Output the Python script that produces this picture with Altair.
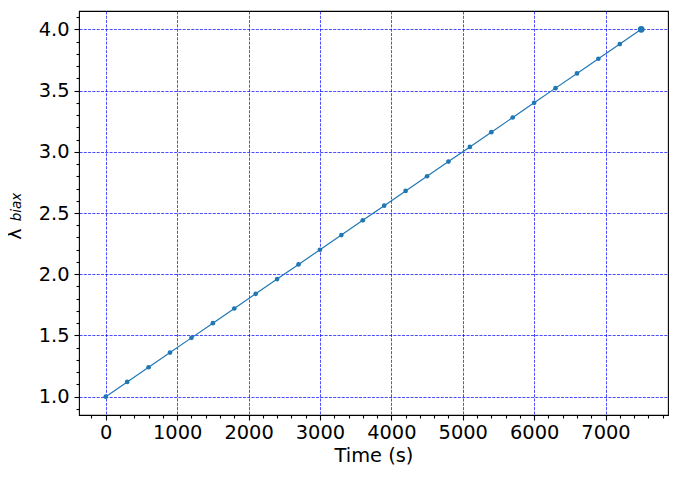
import altair as alt
import pandas as pd

time_s = [0, 300, 600, 900, 1200, 1500, 1800, 2100, 2400, 2700, 3000, 3300, 3600,
          3900, 4200, 4500, 4800, 5100, 5400, 5700, 6000, 6300, 6600, 6900, 7200, 7500]
lam = [1.00, 1.12, 1.24, 1.36, 1.48, 1.60, 1.72, 1.84, 1.96, 2.08, 2.20, 2.32, 2.44,
       2.56, 2.68, 2.80, 2.92, 3.04, 3.16, 3.28, 3.40, 3.52, 3.64, 3.76, 3.88, 4.00]

x_ticks = list(range(-200, 7801, 200))
y_ticks = [round(0.9 + 0.1 * i, 1) for i in range(33)]

df = pd.DataFrame({"t": time_s, "lam": lam})
df_last = df.tail(1)

FONT = "DejaVu Sans"
BLUE = "#1f77b4"

x_major = "datum.value % 1000 === 0"
y_major = "abs(datum.value * 2 - round(datum.value * 2)) < 1e-6"

xenc = alt.X("t:Q", scale=alt.Scale(domain=[-375, 7875], nice=False, zero=False),
             axis=alt.Axis(values=x_ticks, tickCount=200, title="Time (s)",
                           labelExpr=f"({x_major}) ? format(datum.value, 'd') : ''",
                           labelOverlap=False, labelFlush=False,
                           tickSize={"condition": {"test": x_major, "value": 5}, "value": 3},
                           gridOpacity={"condition": {"test": x_major, "value": 1}, "value": 0},
                           labelFontSize=19.4, titleFontSize=19.4,
                           labelPadding=3, titlePadding=5))
yenc = alt.Y("lam:Q", scale=alt.Scale(domain=[0.85, 4.15], nice=False, zero=False),
             axis=alt.Axis(values=y_ticks, tickCount=200, title=None,
                           labelExpr=f"({y_major}) ? format(datum.value, '.1f') : ''",
                           labelOverlap=False, labelFlush=False,
                           tickSize={"condition": {"test": y_major, "value": 5}, "value": 3},
                           gridOpacity={"condition": {"test": y_major, "value": 1}, "value": 0},
                           labelFontSize=19.4, labelPadding=5))

line = alt.Chart(df).mark_line(color=BLUE, strokeWidth=1.2).encode(x=xenc, y=yenc)
pts = alt.Chart(df).mark_circle(color=BLUE, size=22, opacity=1).encode(x="t:Q", y="lam:Q")
last = alt.Chart(df_last).mark_circle(color=BLUE, size=45, opacity=1).encode(x="t:Q", y="lam:Q")

lam_txt = alt.Chart(df_last).mark_text(text="λ", font=FONT, fontSize=19, angle=270,
                                       align="center", baseline="middle", color="black"
                                       ).encode(x=alt.value(-64), y=alt.value(223))
sub_txt = alt.Chart(df_last).mark_text(text="biax", font=FONT, fontSize=13.5, fontStyle="italic",
                                       angle=270, align="center", baseline="middle",
                                       color="black").encode(x=alt.value(-62), y=alt.value(196))

chart = alt.layer(line, pts, last, lam_txt, sub_txt).properties(
    width=589, height=404,
    autosize=alt.AutoSizeParams(type="none"),
    padding={"left": 71, "top": 3, "right": 1, "bottom": 54},
).configure_view(stroke="black", strokeWidth=1.1).configure_axis(
    domain=False, grid=True, gridColor="#0000ff", gridDash=[3, 1.3], gridWidth=0.7,
    tickColor="black", tickWidth=1.1, labelColor="black", titleColor="black",
    labelFont=FONT, titleFont=FONT, titleFontWeight="normal",
)

chart.save("out.html", embed_options={"renderer": "svg", "actions": False})
